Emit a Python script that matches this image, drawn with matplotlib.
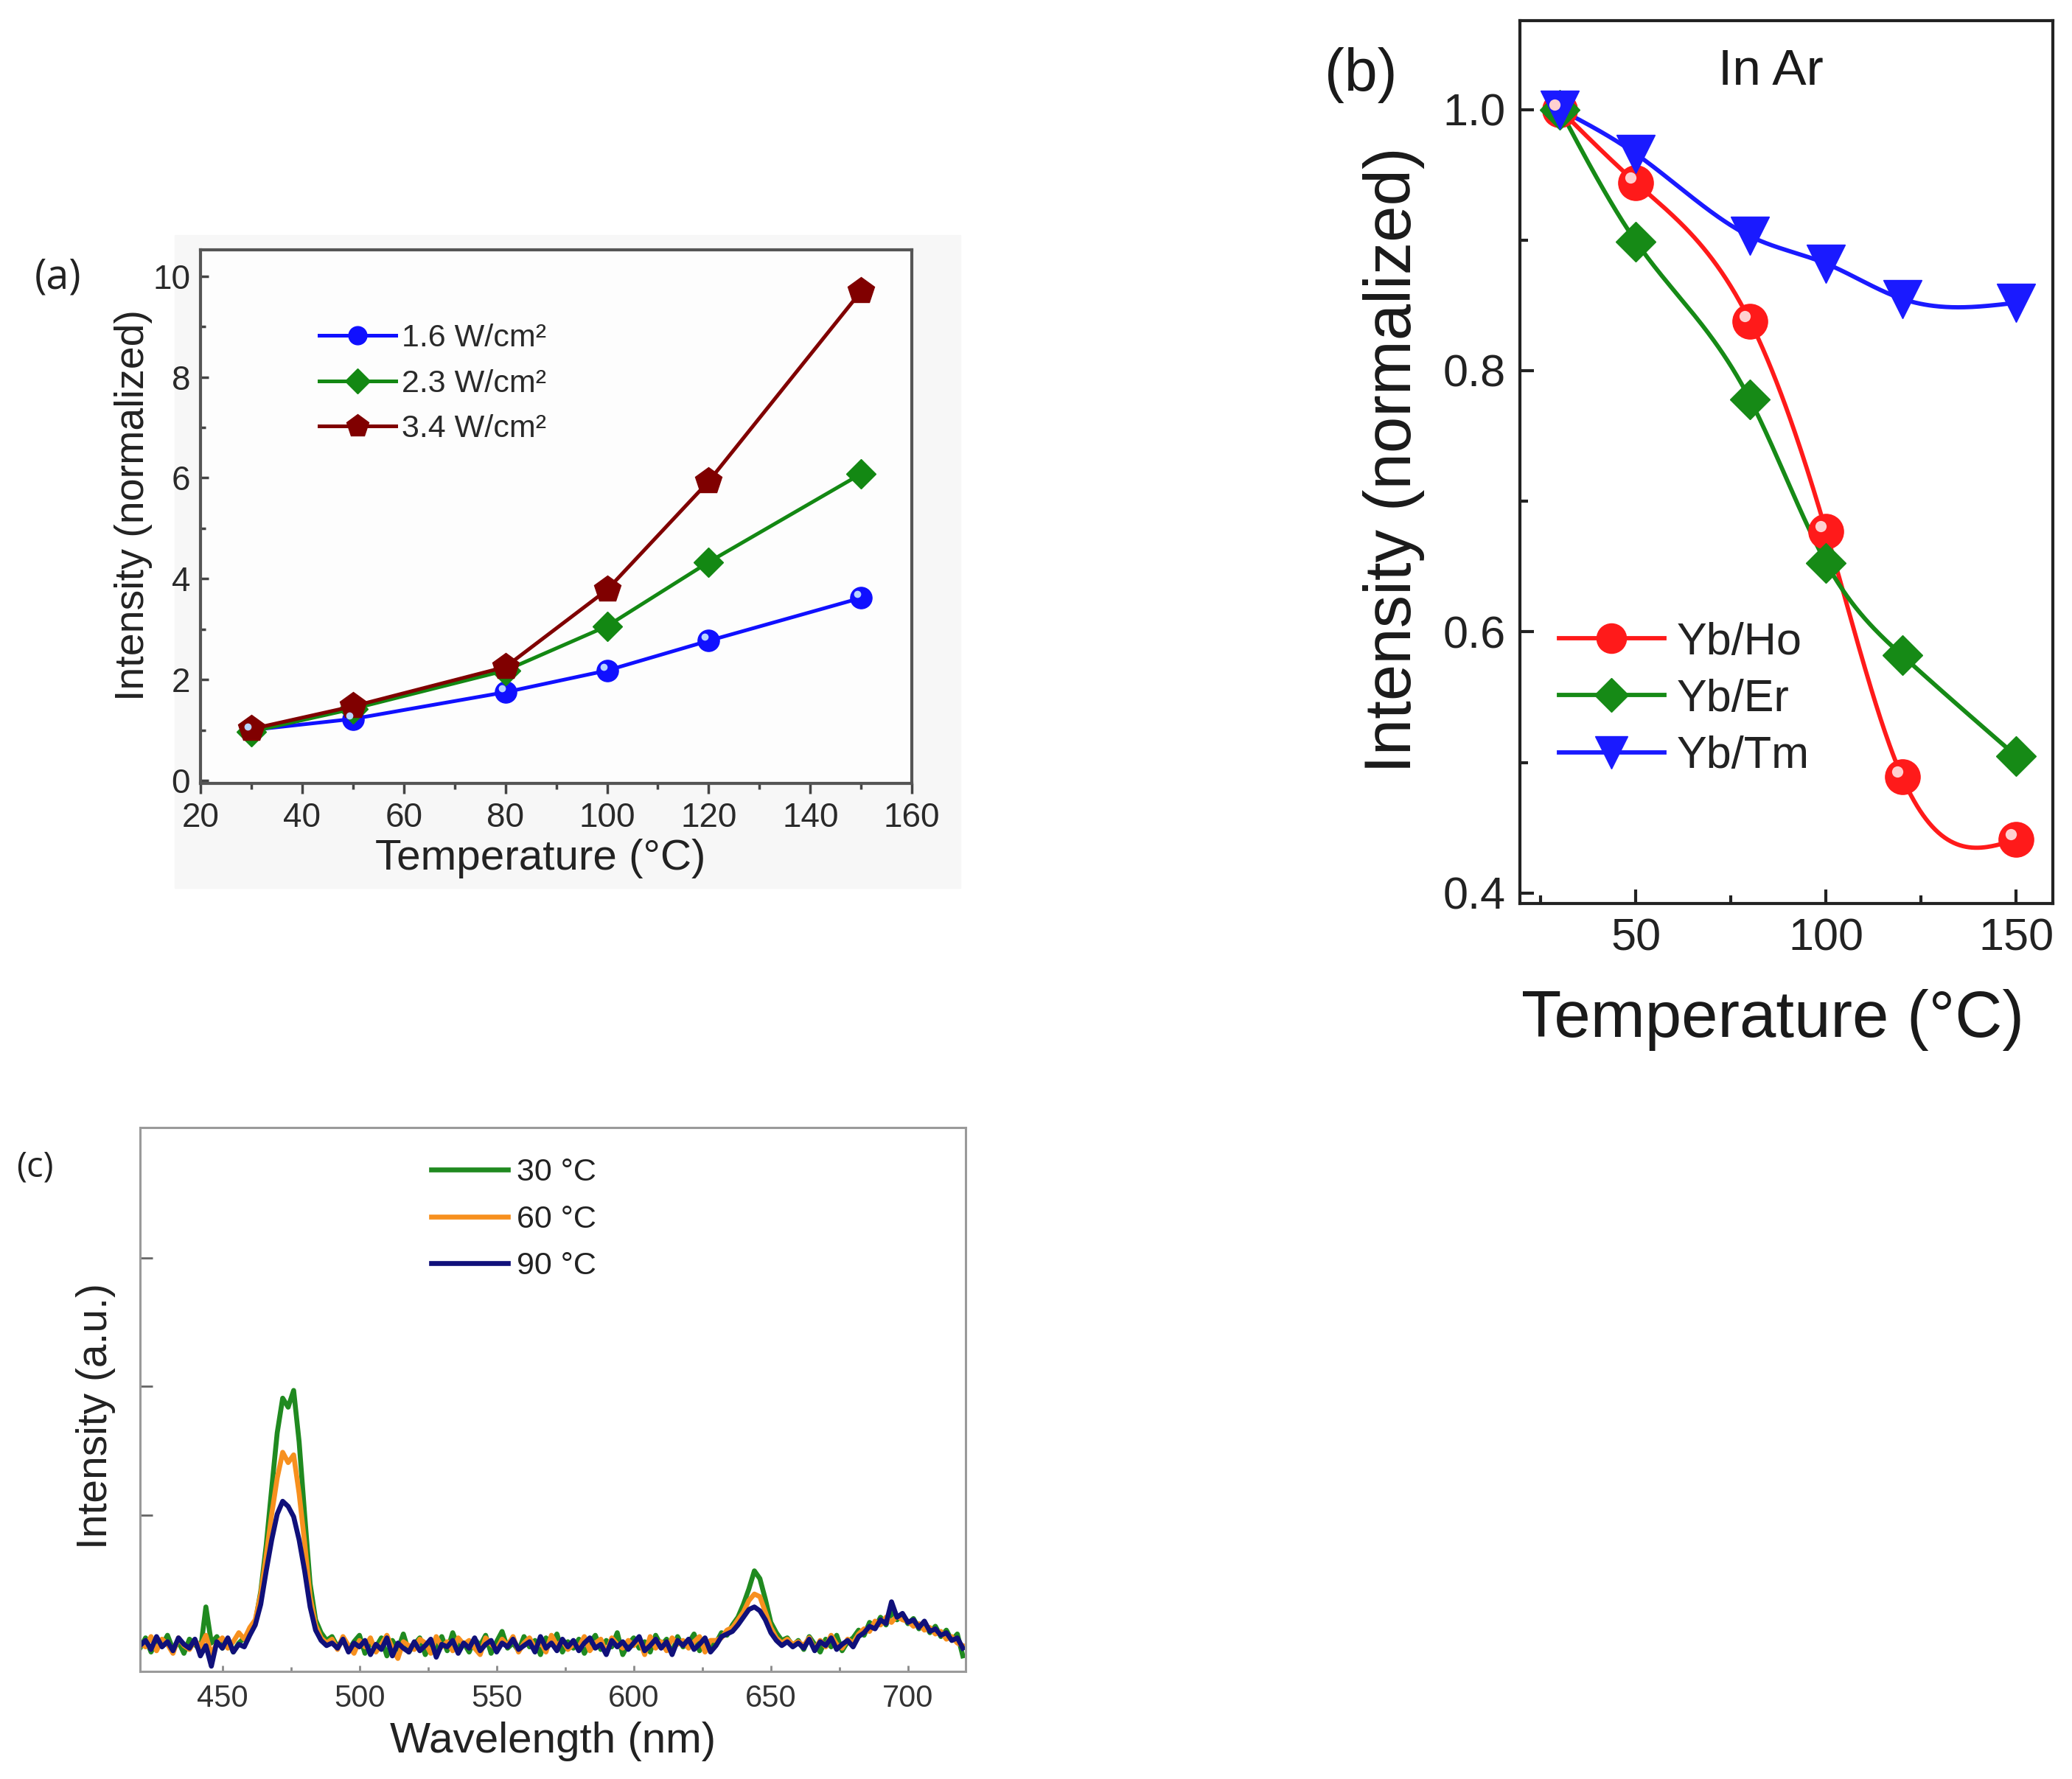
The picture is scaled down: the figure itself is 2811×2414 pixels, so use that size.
import numpy as np
import matplotlib
matplotlib.use("Agg")
import matplotlib.pyplot as plt
from matplotlib.patches import Rectangle
from matplotlib.transforms import ScaledTranslation

plt.rcParams['font.family'] = ['Liberation Sans', 'DejaVu Sans']

# ---- panel (a): intensity vs temperature at three pump densities
temp_a = [30, 50, 80, 100, 120, 150]
int_16 = [1.0, 1.22, 1.75, 2.18, 2.77, 3.62]
int_23 = [0.97, 1.42, 2.18, 3.06, 4.33, 6.08]
int_34 = [1.02, 1.47, 2.25, 3.78, 5.93, 9.70]
labels_a = ['1.6 W/cm²', '2.3 W/cm²', '3.4 W/cm²']

# ---- panel (b): normalized intensity in Ar
temp_b = [30, 50, 80, 100, 120, 150]
yb_ho = [1.0, 0.944, 0.838, 0.677, 0.489, 0.441]
yb_er = [1.0, 0.899, 0.778, 0.653, 0.582, 0.505]
yb_tm = [1.0, 0.966, 0.903, 0.882, 0.855, 0.852]
labels_b = ['Yb/Ho', 'Yb/Er', 'Yb/Tm']

# ---- panel (c): emission spectra (2 nm steps, 420-720 nm)
wavelength = np.arange(420, 721, 2)
spec_30 = [
    0.18, 0.26, 0.15, 0.24, 0.20, 0.28, 0.17, 0.23, 0.14, 0.25,
    0.21, 0.16, 0.50, 0.22, 0.27, 0.18, 0.24, 0.15, 0.22, 0.26,
    0.30, 0.38, 0.62, 0.98, 1.42, 1.85, 2.12, 2.05, 2.18, 1.78,
    1.22, 0.68, 0.40, 0.30, 0.24, 0.27, 0.19, 0.25, 0.16, 0.23,
    0.28, 0.14, 0.22, 0.19, 0.26, 0.12, 0.24, 0.17, 0.29, 0.15,
    0.21, 0.26, 0.13, 0.23, 0.18, 0.27, 0.16, 0.30, 0.19, 0.22,
    0.15, 0.25, 0.20, 0.28, 0.14, 0.23, 0.31, 0.18, 0.22, 0.16,
    0.27, 0.19, 0.24, 0.13, 0.26, 0.21, 0.29, 0.15, 0.23, 0.18,
    0.25, 0.14, 0.22, 0.28, 0.17, 0.24, 0.19, 0.30, 0.13, 0.21,
    0.26, 0.18, 0.23, 0.15, 0.28, 0.20, 0.25, 0.14, 0.27, 0.19,
    0.22, 0.29, 0.16, 0.24, 0.19, 0.22, 0.30, 0.28, 0.36, 0.42,
    0.52, 0.64, 0.78, 0.72, 0.56, 0.38, 0.30, 0.24, 0.26, 0.20,
    0.24, 0.17, 0.27, 0.21, 0.15, 0.25, 0.19, 0.28, 0.16, 0.23,
    0.26, 0.32, 0.28, 0.38, 0.34, 0.42, 0.36, 0.46, 0.40, 0.44,
    0.37, 0.41, 0.33, 0.38, 0.30, 0.35, 0.27, 0.32, 0.24, 0.29,
    0.12]
spec_60 = [
    0.22, 0.19, 0.27, 0.16, 0.25, 0.21, 0.14, 0.26, 0.20, 0.17,
    0.24, 0.19, 0.28, 0.13, 0.22, 0.26, 0.18, 0.23, 0.30, 0.25,
    0.34, 0.40, 0.60, 0.90, 1.22, 1.50, 1.70, 1.62, 1.68, 1.38,
    1.00, 0.58, 0.36, 0.26, 0.22, 0.25, 0.17, 0.27, 0.20, 0.14,
    0.24, 0.19, 0.26, 0.15, 0.21, 0.28, 0.18, 0.10, 0.23, 0.20,
    0.17, 0.25, 0.22, 0.14, 0.27, 0.19, 0.23, 0.16, 0.26, 0.21,
    0.24, 0.18, 0.13, 0.26, 0.21, 0.17, 0.25, 0.20, 0.27, 0.15,
    0.22, 0.26, 0.18, 0.23, 0.15, 0.28, 0.20, 0.24, 0.17, 0.21,
    0.19, 0.27, 0.16, 0.22, 0.25, 0.14, 0.26, 0.21, 0.18, 0.24,
    0.20, 0.25, 0.13, 0.27, 0.18, 0.23, 0.16, 0.26, 0.21, 0.24,
    0.18, 0.23, 0.27, 0.15, 0.24, 0.24, 0.26, 0.32, 0.34, 0.40,
    0.46, 0.55, 0.60, 0.58, 0.46, 0.34, 0.26, 0.22, 0.25, 0.21,
    0.23, 0.20, 0.26, 0.17, 0.24, 0.19, 0.28, 0.21, 0.18, 0.25,
    0.22, 0.29, 0.33, 0.31, 0.39, 0.36, 0.42, 0.38, 0.43, 0.40,
    0.39, 0.35, 0.37, 0.32, 0.34, 0.29, 0.31, 0.25, 0.27, 0.22,
    0.20]
spec_90 = [
    0.20, 0.24, 0.17, 0.27, 0.19, 0.23, 0.16, 0.26, 0.21, 0.18,
    0.25, 0.12, 0.20, 0.04, 0.23, 0.18, 0.26, 0.15, 0.21, 0.19,
    0.28, 0.36, 0.52, 0.78, 1.02, 1.22, 1.32, 1.28, 1.20, 1.02,
    0.78, 0.50, 0.32, 0.24, 0.20, 0.22, 0.18, 0.25, 0.15, 0.22,
    0.19, 0.24, 0.13, 0.21, 0.17, 0.26, 0.12, 0.22, 0.18, 0.15,
    0.23, 0.16, 0.20, 0.25, 0.11, 0.21, 0.19, 0.24, 0.14, 0.22,
    0.18, 0.26, 0.16, 0.21, 0.24, 0.15, 0.22, 0.19, 0.25, 0.17,
    0.20, 0.23, 0.15, 0.27, 0.18, 0.22, 0.16, 0.25, 0.19, 0.24,
    0.16, 0.22, 0.26, 0.18, 0.21, 0.13, 0.24, 0.19, 0.23, 0.17,
    0.22, 0.27, 0.16, 0.20, 0.25, 0.18, 0.23, 0.13, 0.24, 0.20,
    0.25, 0.17, 0.21, 0.26, 0.15, 0.20, 0.27, 0.29, 0.31, 0.36,
    0.42, 0.48, 0.50, 0.47, 0.40, 0.30, 0.24, 0.20, 0.23, 0.19,
    0.22, 0.18, 0.25, 0.16, 0.23, 0.20, 0.26, 0.17, 0.21, 0.24,
    0.19, 0.27, 0.30, 0.35, 0.33, 0.40, 0.37, 0.54, 0.42, 0.45,
    0.38, 0.40, 0.34, 0.39, 0.31, 0.33, 0.28, 0.30, 0.24, 0.26,
    0.18]
labels_c = ['30 °C', '60 °C', '90 °C']


def spline(x, y, n=300):
    # natural cubic spline, like Origin's "spline" line connection
    x = np.asarray(x, float)
    y = np.asarray(y, float)
    h = np.diff(x)
    m = len(x)
    A = np.zeros((m, m))
    r = np.zeros(m)
    A[0, 0] = A[-1, -1] = 1
    for i in range(1, m - 1):
        A[i, i - 1] = h[i - 1]
        A[i, i] = 2 * (h[i - 1] + h[i])
        A[i, i + 1] = h[i]
        r[i] = 6 * ((y[i + 1] - y[i]) / h[i] - (y[i] - y[i - 1]) / h[i - 1])
    M = np.linalg.solve(A, r)
    xs = np.linspace(x[0], x[-1], n)
    k = np.clip(np.searchsorted(x, xs) - 1, 0, m - 2)
    t0 = x[k + 1] - xs
    t1 = xs - x[k]
    hk = h[k]
    ys = (M[k] * t0**3 + M[k + 1] * t1**3) / (6 * hk) \
        + (y[k] / hk - M[k] * hk / 6) * t0 + (y[k + 1] / hk - M[k + 1] * hk / 6) * t1
    return xs, ys


fig = plt.figure(figsize=(28.11, 24.14), dpi=100)

# light grey backing behind panel (a)
fig.patches.append(Rectangle((237 / 2811, 1 - 1205 / 2414), 1066 / 2811, 886 / 2414,
                             transform=fig.transFigure, color='#f7f7f7', zorder=-5))

# ================= (a)
ax = fig.add_axes([0.0968, 0.5596, 0.3433, 0.2999])
ax.set_facecolor('#fdfdfd')
hl = ScaledTranslation(-0.05, 0.05, fig.dpi_scale_trans)
la1, = ax.plot(temp_a, int_16, '-o', color='#1010ff', lw=3.6, ms=21, mec='#1010ff', label=labels_a[0], zorder=3)
ax.plot(temp_a, int_16, 'o', color='#b8d4ff', ms=7, mew=0, transform=ax.transData + hl, zorder=4)
la2, = ax.plot(temp_a, int_23, '-D', color='#138813', lw=3.6, ms=20, label=labels_a[1], zorder=3)
la3, = ax.plot(temp_a, int_34, '-p', color='#800000', lw=3.6, ms=27, label=labels_a[2], zorder=3)
ax.set_xlim(20, 160)
ax.set_ylim(-0.06, 10.52)
ax.set_xticks(range(20, 161, 20))
ax.set_xticks(range(30, 160, 20), minor=True)
ax.set_yticks(range(0, 11, 2))
ax.set_yticks(range(1, 11, 2), minor=True)
for s in ax.spines.values():
    s.set_color('#555555')
    s.set_linewidth(3)
ax.tick_params(axis='x', which='major', direction='out', length=10, width=2.5, color='#444444',
               labelsize=33, labelcolor='#2a2a2a', pad=8)
ax.tick_params(axis='x', which='minor', direction='out', length=6, width=2.5, color='#444444')
ax.tick_params(axis='y', which='major', direction='in', length=8, width=2.5, color='#444444',
               labelsize=33, labelcolor='#2a2a2a', pad=10)
ax.tick_params(axis='y', which='minor', direction='in', length=5, width=2.5, color='#444444')
ax.set_xlabel('Temperature (°C)', fontsize=42, color='#222222', va='center')
ax.xaxis.set_label_coords(0.478, -0.141)
ax.set_ylabel('Intensity (normalized)', fontsize=40, color='#222222', va='center')
ax.yaxis.set_label_coords(-0.094, 0.522)
ax.legend(handles=[la1, la2, la3], loc='center left', bbox_to_anchor=(0.167, 0.749),
          frameon=False, fontsize=31, handlelength=2.4, handletextpad=0.2,
          labelspacing=0.5, borderpad=0, borderaxespad=0, labelcolor='#2a2a2a',
          markerscale=0.85)
fig.text(0.028, 0.844, '(a)', fontsize=40, family=['Open Sans', 'DejaVu Sans'],
         ha='center', va='center', color='#222222')

# ================= (b)
bx = fig.add_axes([0.7335, 0.4921, 0.2572, 0.4963])
for yv, col, mk, ms, lab in [(yb_ho, '#ff1a1a', 'o', 34, labels_b[0]),
                             (yb_er, '#168a16', 'D', 28, labels_b[1]),
                             (yb_tm, '#1a1aff', 'v', 38, labels_b[2])]:
    xs, ys = spline(temp_b, yv)
    bx.plot(xs, ys, '-', color=col, lw=4.2, zorder=2)
    bx.plot(temp_b, yv, mk, color=col, ms=ms, mec=col, zorder=3)
    bx.plot([], [], '-' + mk, color=col, lw=4.2, ms=ms * 0.85, label=lab)
hb = ScaledTranslation(-0.07, 0.07, fig.dpi_scale_trans)
bx.plot(temp_b, yb_ho, 'o', color='#ffd0d0', ms=11, mew=0, transform=bx.transData + hb, zorder=4)
bx.set_xlim(19.5, 159.6)
bx.set_ylim(0.392, 1.068)
bx.set_xticks([50, 100, 150])
bx.set_xticks([25, 75, 125], minor=True)
bx.set_yticks([0.4, 0.6, 0.8, 1.0])
bx.set_yticks([0.5, 0.7, 0.9], minor=True)
bx.yaxis.set_major_formatter(matplotlib.ticker.FormatStrFormatter('%.1f'))
for s in bx.spines.values():
    s.set_color('#222222')
    s.set_linewidth(3)
bx.tick_params(which='major', direction='in', length=14, width=3, color='#222222',
               labelsize=44, labelcolor='#222222', pad=14)
bx.tick_params(which='minor', direction='in', length=8, width=3, color='#222222')
bx.set_xlabel('Temperature (°C)', fontsize=64, color='#1a1a1a', va='center')
bx.xaxis.set_label_coords(0.474, -0.132)
bx.set_ylabel('Intensity (normalized)', fontsize=64, color='#1a1a1a', va='center')
bx.yaxis.set_label_coords(-0.237, 0.5025)
bx.text(0.471, 0.942, 'In Ar', transform=bx.transAxes, fontsize=50, ha='center', va='center',
        color='#1a1a1a')
bx.legend(loc='center left', bbox_to_anchor=(0.073, 0.231), frameon=False, fontsize=44,
          handlelength=2.34, handletextpad=0.28, labelspacing=0.33, borderpad=0,
          borderaxespad=0, labelcolor='#222222')
fig.text(0.6567, 0.9577, '(b)', fontsize=58, ha='center', va='center', color='#1a1a1a')

# ================= (c)
cx = fig.add_axes([0.0676, 0.0605, 0.3984, 0.3057])
cx.plot(wavelength, spec_30, color='#208a20', lw=4.8, label=labels_c[0])
cx.plot(wavelength, spec_60, color='#f7901e', lw=4.8, label=labels_c[1])
cx.plot(wavelength, spec_90, color='#10107a', lw=4.8, label=labels_c[2])
cx.set_xlim(420, 721)
cx.set_ylim(0, 4.22)
cx.set_xticks(range(450, 701, 50))
cx.set_xticks(range(475, 721, 50), minor=True)
cx.set_yticks([1.21, 2.21, 3.21])
cx.set_yticklabels([])
for s in cx.spines.values():
    s.set_color('#9a9a9a')
    s.set_linewidth(2.2)
cx.tick_params(axis='x', which='major', direction='in', length=6, width=2, color='#8a8a8a',
               labelsize=30, labelcolor='#333333', pad=12)
cx.tick_params(axis='x', which='minor', direction='in', length=4, width=2, color='#8a8a8a')
cx.tick_params(axis='y', direction='in', length=12, width=2, color='#666666')
cx.set_xlabel('Wavelength (nm)', fontsize=42, color='#222222', labelpad=8)
cx.set_ylabel('Intensity (a.u.)', fontsize=41, color='#222222', va='center')
cx.yaxis.set_label_coords(-0.054, 0.469)
cx.legend(loc='center left', bbox_to_anchor=(0.353, 0.831), frameon=False, fontsize=31,
          handlelength=2.4, handletextpad=0.28, labelspacing=0.55, borderpad=0,
          borderaxespad=0, labelcolor='#222222')
fig.text(0.0167, 0.344, '(c)', fontsize=34, family=['Open Sans', 'DejaVu Sans'],
         ha='center', va='center', color='#222222')

fig.savefig('out.png', dpi=100)
